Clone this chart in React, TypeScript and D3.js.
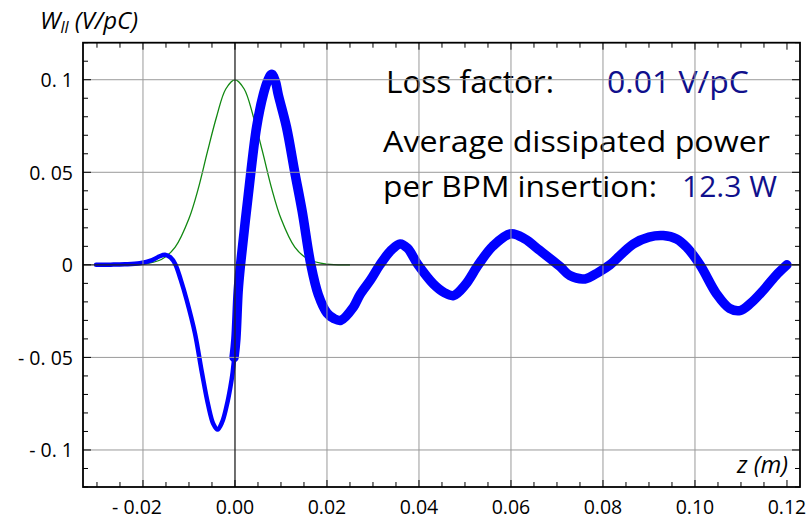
import { scaleLinear, line, curveCatmullRom, range } from "d3"

// wake potential, smooth part (head of the bunch)
const wakeHeadZ = [-0.0302, -0.027, -0.024, -0.0207, -0.018, -0.0165, -0.0152, -0.014, -0.013, -0.0118, -0.0105, -0.0087, -0.0072, -0.0058, -0.0047, -0.0038, -0.0028, -0.0018, -0.001, -0.0005, 0.0002, 0.0007]
const wakeHeadV = [0, 0.0001, 0.0003, 0.0009, 0.0026, 0.0045, 0.0055, 0.004, 0.0005, -0.008, -0.019, -0.037, -0.058, -0.076, -0.086, -0.089, -0.085, -0.076, -0.066, -0.058, -0.04, -0.014]

// wake potential, noisy part
const wakeTailZ = [-0.0002, 0.0002, 0.0007, 0.0012, 0.0029, 0.0047, 0.0062, 0.0072, 0.008, 0.0088, 0.0094, 0.0112, 0.013, 0.0146, 0.0165, 0.0181, 0.02, 0.0215, 0.023, 0.0257, 0.0272, 0.0295, 0.0315, 0.034, 0.0359, 0.0375, 0.0398, 0.0431, 0.0455, 0.0475, 0.05, 0.0529, 0.056, 0.06, 0.063, 0.0663, 0.0707, 0.0728, 0.0761, 0.079, 0.0815, 0.0866, 0.09, 0.0931, 0.096, 0.0982, 0.1011, 0.1047, 0.1075, 0.1098, 0.112, 0.1148, 0.1175, 0.12]
const wakeTailV = [-0.05, -0.04, -0.014, 0.0, 0.038, 0.0744, 0.0924, 0.1, 0.103, 0.099, 0.092, 0.0744, 0.05, 0.029, 0.0, -0.016, -0.026, -0.029, -0.03, -0.023, -0.016, -0.008, 0.0, 0.008, 0.0113, 0.009, 0.0, -0.0103, -0.015, -0.0166, -0.011, 0.0, 0.01, 0.0168, 0.014, 0.0077, -0.001, -0.0058, -0.0076, -0.004, 0.0, 0.0113, 0.015, 0.0158, 0.014, 0.0095, 0.0, -0.0157, -0.0235, -0.0247, -0.021, -0.0139, -0.006, 0.0]

// bunch profile (green)
const bunchZ = [-0.03, -0.025, -0.02, -0.016, -0.013, -0.01, -0.008, -0.006, -0.004, -0.002, 0, 0.002, 0.004, 0.006, 0.008, 0.01, 0.013, 0.016, 0.02, 0.025]
const bunchV = [0, 0.00002, 0.0004, 0.0029, 0.0096, 0.025, 0.041, 0.061, 0.08, 0.095, 0.1, 0.095, 0.08, 0.061, 0.041, 0.025, 0.0096, 0.0029, 0.0004, 0.00002]

const xTicks = [-0.02, 0, 0.02, 0.04, 0.06, 0.08, 0.1, 0.12]
const xTickLabels = ["- 0.02", "0.00", "0.02", "0.04", "0.06", "0.08", "0.10", "0.12"]
const xGrid = [-0.02, 0.02, 0.04, 0.06, 0.08, 0.1]
const yTicks = [-0.1, -0.05, 0, 0.05, 0.1]
const yTickLabels = ["- 0. 1", "- 0. 05", "0", "0. 05", "0. 1"]
const yGrid = [-0.1, -0.05, 0.05, 0.1]

const width = 810
const height = 519
const font = "'Open Sans', sans-serif"
const navy = "#10108c"

export default function App() {
    //scales
    const x = scaleLinear().domain([-0.03304, 0.12283]).range([83, 800])
    const y = scaleLinear().domain([-0.12, 0.12]).range([487, 42.7])
    const [left, right] = x.range()
    const [bottom, top] = y.range()

    const path = line<[number, number]>()
        .x(d => x(d[0]))
        .y(d => y(d[1]))
        .curve(curveCatmullRom.alpha(0.5))

    const head = path(wakeHeadZ.map((z, i) => [z, wakeHeadV[i]]))
    const tail = path(wakeTailZ.map((z, i) => [z, wakeTailV[i]]))
    const bunch = path(bunchZ.map((z, i) => [z, bunchV[i]]))

    const xMinor = range(-0.03, 0.1229, 0.005)
    const yMinor = range(-0.12, 0.1201, 0.01)
    const isMajorX = (t: number) => Math.abs(t / 0.02 - Math.round(t / 0.02)) < 1e-6
    const isMajorY = (t: number) => Math.abs(t / 0.05 - Math.round(t / 0.05)) < 1e-6

    return (
        <svg width={width} height={height} style={{ position: "absolute", left: 0, top: 0, background: "#fff" }}>
            {/* annotation */}
            <g fontFamily={font}>
                <text x={386} y={93} fontSize={31} textLength={168} lengthAdjust="spacingAndGlyphs">Loss factor:</text>
                <text x={607} y={93} fontSize={31} fill={navy} textLength={142} lengthAdjust="spacingAndGlyphs">0.01 V/pC</text>
                <text x={383} y={152} fontSize={29} textLength={387} lengthAdjust="spacingAndGlyphs">Average dissipated power</text>
                <text x={383} y={197} fontSize={29} textLength={274} lengthAdjust="spacingAndGlyphs">per BPM insertion:</text>
                <text x={682} y={197} fontSize={29} fill={navy} textLength={95} lengthAdjust="spacingAndGlyphs">12.3 W</text>
            </g>

            {/* curves */}
            <path d={bunch ?? ""} fill="none" stroke="#118811" strokeWidth={1.3} />
            <path d={head ?? ""} fill="none" stroke="#0000ff" strokeWidth={4.5} strokeLinejoin="round" strokeLinecap="round" />
            <path d={tail ?? ""} fill="none" stroke="#0000ff" strokeWidth={9.5} strokeLinejoin="round" strokeLinecap="round" />

            {/* grid */}
            {xGrid.map((t, i) => (
                <line key={"gx" + i} x1={x(t)} x2={x(t)} y1={top} y2={bottom} stroke="#9a9a9a" strokeWidth={1} />
            ))}
            {yGrid.map((t, i) => (
                <line key={"gy" + i} x1={left} x2={right} y1={y(t)} y2={y(t)} stroke="#9a9a9a" strokeWidth={1} />
            ))}
            <line x1={x(0)} x2={x(0)} y1={top} y2={bottom} stroke="#222" strokeWidth={1.3} />
            <line x1={left} x2={right} y1={y(0)} y2={y(0)} stroke="#222" strokeWidth={1.3} />

            {/* ticks */}
            {xMinor.map((t, i) => {
                const len = isMajorX(t) ? 7 : 5
                return (
                    <g key={"tx" + i}>
                        <line x1={x(t)} x2={x(t)} y1={bottom} y2={bottom - len} stroke="#000" />
                        <line x1={x(t)} x2={x(t)} y1={top} y2={top + len} stroke="#000" />
                    </g>
                )
            })}
            {yMinor.map((t, i) => {
                const len = isMajorY(t) ? 8 : 5
                return (
                    <g key={"ty" + i}>
                        <line x1={left} x2={left + len} y1={y(t)} y2={y(t)} stroke="#000" />
                        <line x1={right} x2={right - len} y1={y(t)} y2={y(t)} stroke="#000" />
                    </g>
                )
            })}

            {/* frame */}
            <rect x={left} y={top} width={right - left} height={bottom - top} fill="none" stroke="#000" strokeWidth={1.8} />

            {/* tick labels */}
            <g fontFamily={font} fontSize={19.5}>
                {xTicks.map((t, i) => (
                    t < 0
                        ? <text key={"lx" + i} x={x(t) + 19} y={514} textAnchor="end">{xTickLabels[i]}</text>
                        : <text key={"lx" + i} x={x(t)} y={514} textAnchor="middle">{xTickLabels[i]}</text>
                ))}
                {yTicks.map((t, i) => (
                    <text key={"ly" + i} x={73} y={y(t) + 7.5} textAnchor="end" xmlSpace="preserve">{yTickLabels[i]}</text>
                ))}
            </g>

            {/* axis titles */}
            <text x={40} y={29} fontFamily={font} fontStyle="italic" fontSize={24}>
                W<tspan fontSize={16} dy={4}>ll</tspan><tspan dy={-4}> (V/pC)</tspan>
            </text>
            <text x={737} y={473} fontFamily={font} fontStyle="italic" fontSize={23} textLength={51} lengthAdjust="spacingAndGlyphs">z (m)</text>
        </svg>
    )
}
